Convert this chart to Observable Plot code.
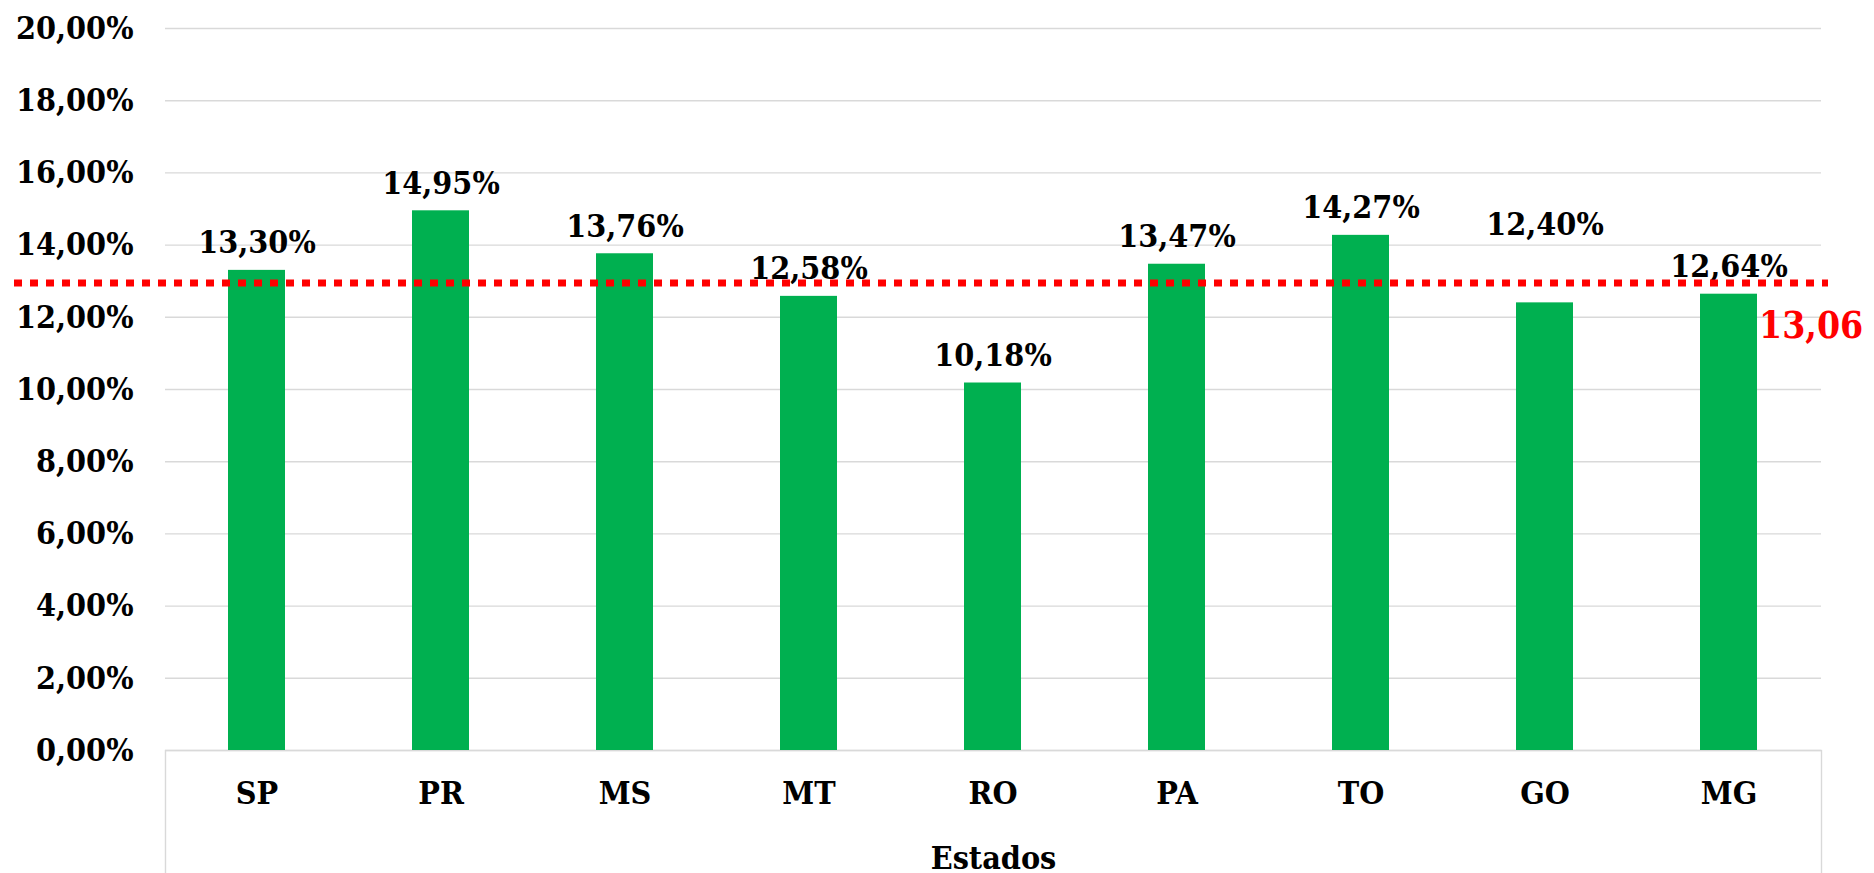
<!DOCTYPE html>
<html>
<head>
<meta charset="utf-8">
<script src="https://cdn.jsdelivr.net/npm/d3@7"></script>
<script src="https://cdn.jsdelivr.net/npm/@observablehq/plot@0.6"></script>
<style>
  html, body { margin: 0; padding: 0; background: #ffffff; }
</style>
</head>
<body>
<div id="chart"></div>
<script>
const states = ["SP", "PR", "MS", "MT", "RO", "PA", "TO", "GO", "MG"];
const values = [13.30, 14.95, 13.76, 12.58, 10.18, 13.47, 14.27, 12.40, 12.64];
const average = 13.06;
const averageLabel = "13,06";
const yTicks = [0, 2, 4, 6, 8, 10, 12, 14, 16, 18, 20];
const xTitle = "Estados";
const raisedLabelState = "GO";

const data = states.map((s, i) => ({state: s, value: values[i]}));
const pct = v => v.toFixed(2).replace(".", ",") + "%";

const font = "'DejaVu Serif Condensed', 'DejaVu Serif', serif";

const labelStyle = {x: "state", y: "value", text: d => pct(d.value), lineAnchor: "bottom", fontSize: 32, fontWeight: "bold", fill: "#000"};

const chart = Plot.plot({
  width: 1874,
  height: 873,
  marginTop: 28,
  marginBottom: 123,
  marginLeft: 165,
  marginRight: 53,
  style: {fontFamily: font, fontStretch: "condensed", fontWeight: "bold", fontSize: "32px", color: "#000", background: "#fff", overflow: "visible"},
  x: {domain: states, paddingInner: 0.69, paddingOuter: 0.345, label: null},
  y: {domain: [0, 20], label: null},
  marks: [
    Plot.gridY(yTicks, {stroke: "#d9d9d9", strokeOpacity: 1, strokeWidth: 1.4}),
    Plot.frame({stroke: "#d9d9d9", strokeWidth: 1.4, insetTop: 722, insetBottom: -140}),
    Plot.axisY(yTicks, {tickSize: 0, tickPadding: 32, tickFormat: pct, fontSize: 32, fontWeight: "bold", label: null}),
    Plot.axisX({tickSize: 0, tickPadding: 31, fontSize: 32, fontWeight: "bold", label: null}),
    Plot.barY(data, {x: "state", y: "value", fill: "#00b050"}),
    Plot.text(data.filter(d => d.state !== raisedLabelState), {...labelStyle, dy: -17}),
    Plot.text(data.filter(d => d.state === raisedLabelState), {...labelStyle, dy: -68}),
    Plot.text([xTitle], {frameAnchor: "bottom", lineAnchor: "bottom", dy: 118, fontSize: 32, fontWeight: "bold", fill: "#000"}),
    Plot.ruleY([average], {stroke: "#ff0000", strokeWidth: 7, strokeDasharray: "8,8", insetLeft: -151, insetRight: -7, dy: 4}),
    Plot.text([averageLabel], {x: () => states[states.length - 1], y: () => average, textAnchor: "start", lineAnchor: "bottom", dx: 30, dy: 59, fontSize: 37, fontWeight: "bold", fill: "#ff0000"})
  ]
});

document.getElementById("chart").appendChild(chart);
</script>
</body>
</html>
